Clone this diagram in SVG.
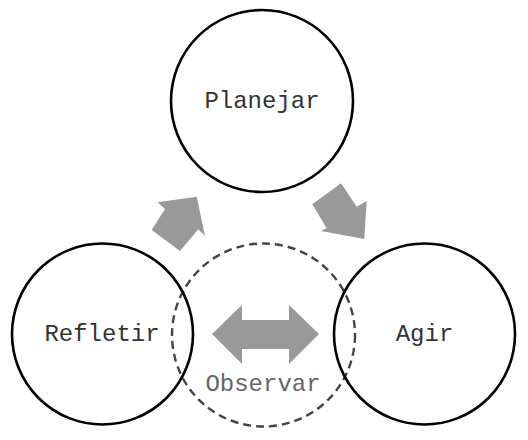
<svg xmlns="http://www.w3.org/2000/svg" width="528" height="440" viewBox="0 0 528 440">
<style>
.c{fill:none;stroke:#000;stroke-width:2.6}
.d{fill:none;stroke:#444;stroke-width:2.4;stroke-dasharray:8 5}
.t{font-family:"Liberation Mono","Courier New",monospace;font-size:24px;fill:#333;text-anchor:middle}
.o{fill:#666}
.a{fill:#999;stroke:none}
</style>
<rect width="528" height="440" fill="#fff"/>
<g id="connectors">
<polygon class="a" points="196.7,196.7 205,236 198.3,229.3 180,251 151.7,230 165,209 157.7,202.3"/>
<polygon class="a" points="364.3,239 321,231 326.7,228.3 312.3,204.3 341,183.3 356.7,206.7 366.7,201"/>
<polygon class="a" points="212,334 242,305 242,320 289,320 289,305 319,334 289,364 289,349 242,349 242,364"/>
</g>
<g id="observar">
<circle class="d" cx="263.5" cy="335" r="91.5"/>
<text class="t o" x="263" y="391">Observar</text>
</g>
<g id="planejar">
<circle class="c" cx="262" cy="101" r="91"/>
<text class="t" x="262" y="108">Planejar</text>
</g>
<g id="refletir">
<circle class="c" cx="102.5" cy="334" r="90.5"/>
<text class="t" x="102" y="341">Refletir</text>
</g>
<g id="agir">
<circle class="c" cx="424.5" cy="334" r="90.5"/>
<text class="t" x="424.5" y="341">Agir</text>
</g>
</svg>
